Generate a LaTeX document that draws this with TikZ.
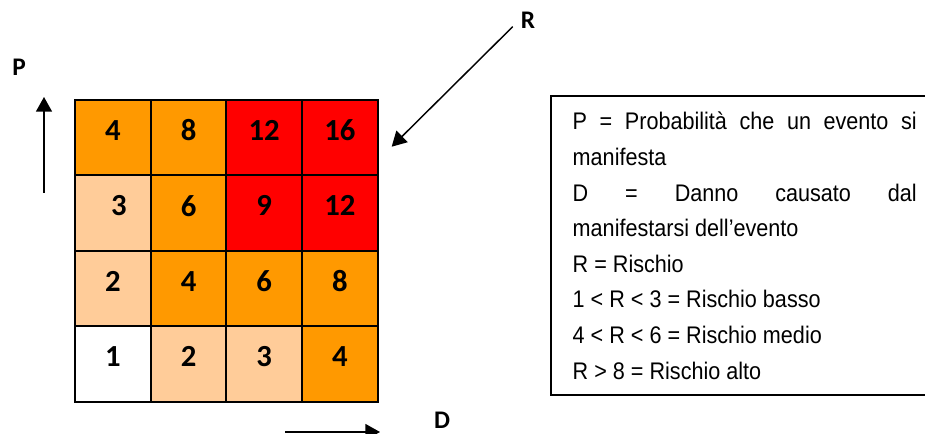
\documentclass[tikz,border=0pt]{standalone}
\usepackage{fontspec}
\usepackage{tikz}
\usetikzlibrary{arrows.meta,positioning}

\newfontfamily\cellfont{Carlito}
\newfontfamily\legendfont[FakeStretch=0.9]{Liberation Sans}

\definecolor{riskhigh}{HTML}{FF0000}
\definecolor{riskmid}{HTML}{FF9900}
\definecolor{risklow}{HTML}{FFCC99}
\definecolor{risknone}{HTML}{FFFFFF}

\begin{document}
\begin{tikzpicture}[
        x=0.75pt, y=-0.75pt,
        every path/.style={line width=1.1pt},
        cell/.style={draw, line width=1.5pt, minimum size=56.7pt, inner sep=0pt},
        num/.style={font=\cellfont\bfseries\fontsize{23}{27}\selectfont, inner sep=0pt},
        axislabel/.style={font=\cellfont\bfseries\fontsize{19}{23}\selectfont, inner sep=0pt},
        axisarrow/.style={-{Triangle[width=12pt,length=11pt]}}
    ]
    \useasboundingbox (0,0) rectangle (925,434);

    % Grid
    \foreach \row/\vals in {0/{4/mid/0,8/mid/0,12/high/0,16/high/0},
                            1/{3/low/4.5,6/mid/0,9/high/0,12/high/0},
                            2/{2/low/0,4/mid/0,6/mid/0,8/mid/0},
                            3/{1/none/0,2/low/0,3/low/0,4/mid/0}}
      \foreach \v/\c/\dx [count=\col from 0] in \vals
        \node (c\row\col) [cell, fill=risk\c,
              label={[num, yshift=5.6pt, xshift=\dx pt]center:\v}]
              at ({113+75.6*\col},{137.75+75.5*\row}) {};

    % Axes
    \node (labP) [axislabel] at (19,67) {P};
    \node (labD) [axislabel] at (442,420) {D};
    \node (labR) [axislabel] at (528,20) {R};

    \coordinate (ptail) at (44,193);
    \coordinate (ptip) at (44,97);
    \coordinate (dtail) at (285,432);
    \coordinate (dtip) at (380,432);
    \coordinate (rtail) at (512.7,26.7);
    \coordinate (rtip) at (391.7,146.7);

    \draw[axisarrow] (ptail) -- (ptip);
    \draw[axisarrow] (dtail) -- (dtip);
    \draw[axisarrow] (rtail) -- (rtip);

    % Legend
    \draw[line width=1.2pt] (925,96) -- (551,96) -- (551,395) -- (925,395);
    \node (legend) [anchor=base west, inner sep=0pt, text width=258pt, align=justify,
          font=\legendfont\fontsize{18}{26.7}\selectfont] at (572,130)
        {P = Probabilità che un evento si\linebreak
         manifesta\\
         D = Danno causato dal\linebreak
         manifestarsi dell’evento\\
         R = Rischio\\
         1 < R < 3 = Rischio basso\\
         4 < R < 6 = Rischio medio\\
         R > 8 = Rischio alto};
\end{tikzpicture}
\end{document}
